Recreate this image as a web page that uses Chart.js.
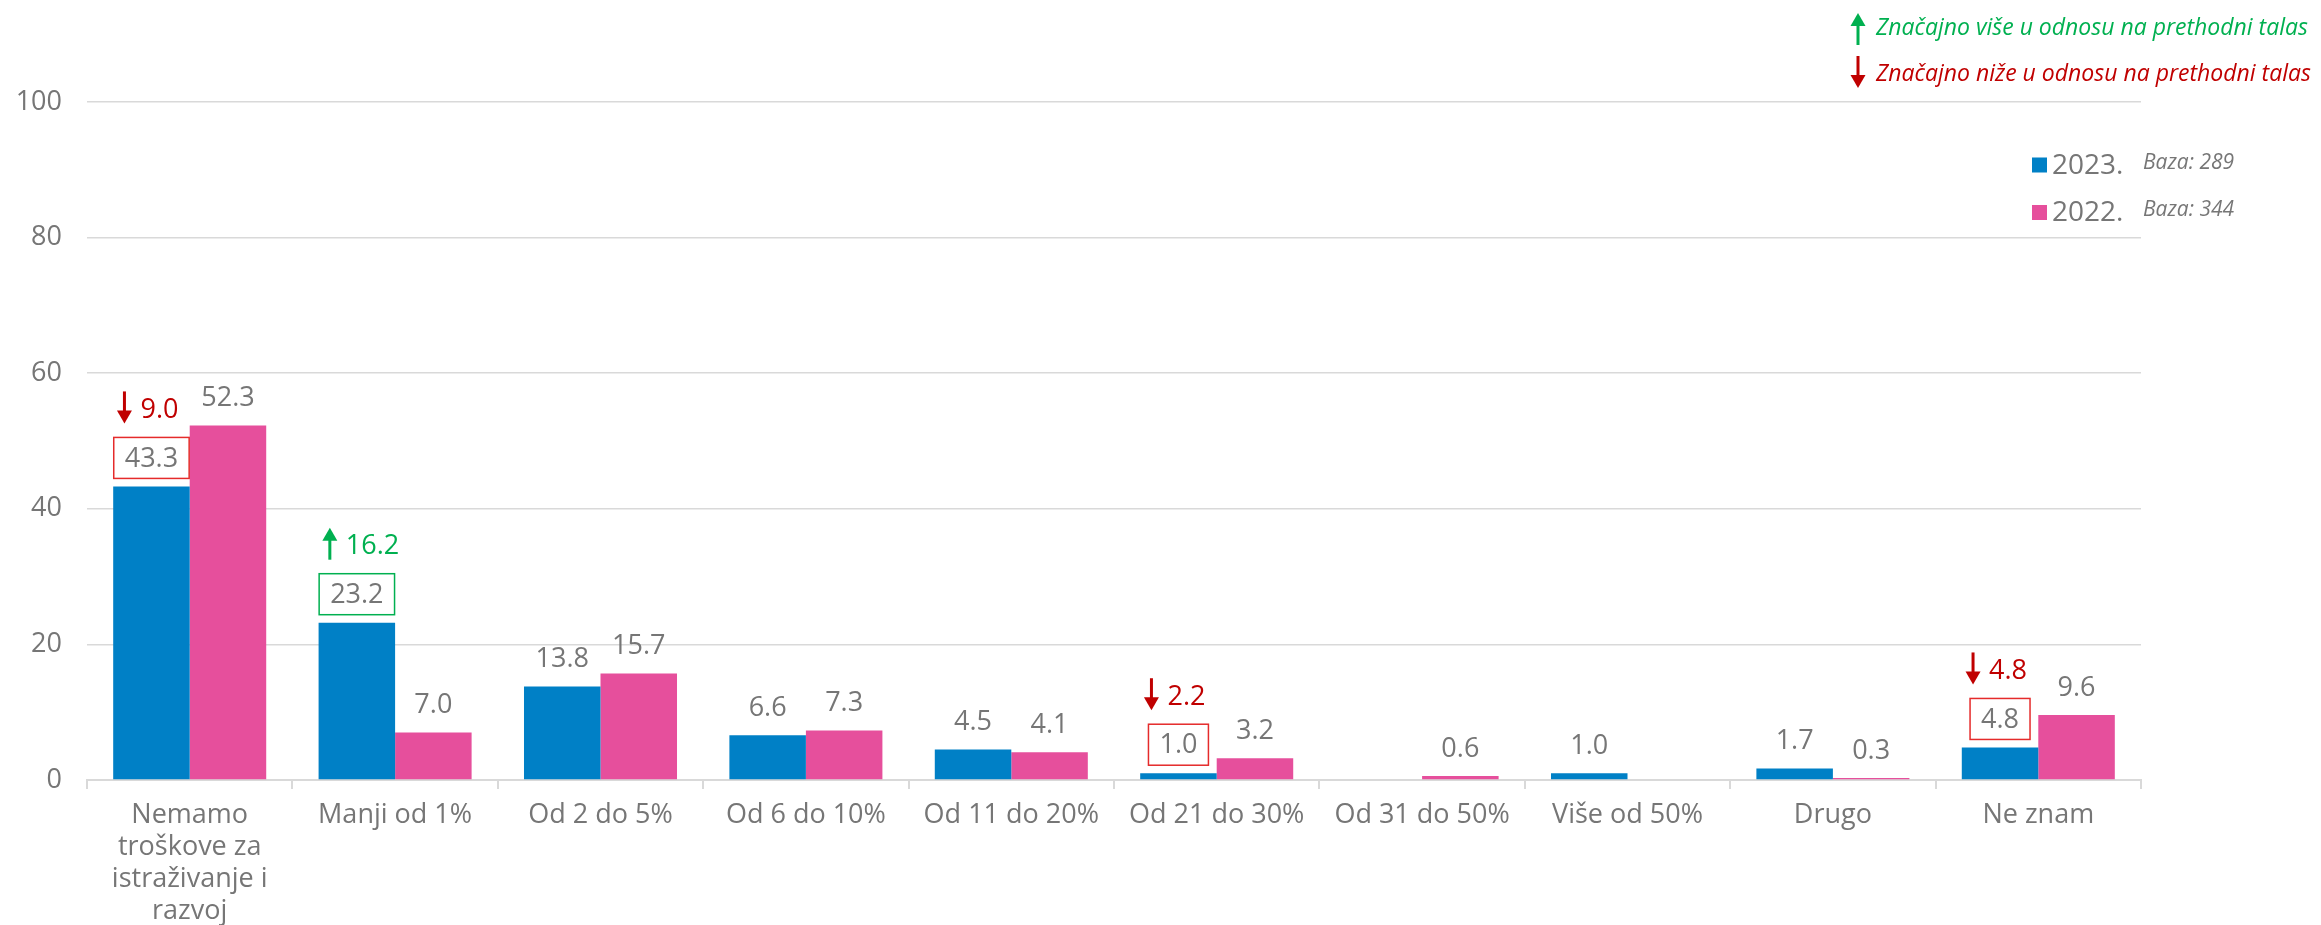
<!DOCTYPE html>
<html>
<head>
<meta charset="utf-8">
<script src="https://cdn.jsdelivr.net/npm/chart.js@4"></script>
<style>
  body { margin: 0; background: #fff; }
  #wrap { width: 2321px; height: 925px; position: relative; }
</style>
</head>
<body>
<div id="wrap"><canvas id="chart-1"></canvas></div>
<script>
// ---------------------------- data ----------------------------
const categories = [
  ['Nemamo', 'troškove za', 'istraživanje i', 'razvoj'],
  'Manji od 1%', 'Od 2 do 5%', 'Od 6 do 10%', 'Od 11 do 20%',
  'Od 21 do 30%', 'Od 31 do 50%', 'Više od 50%', 'Drugo', 'Ne znam'
];
const values2023 = [43.3, 23.2, 13.8, 6.6, 4.5, 1.0, null, 1.0, 1.7, 4.8];
const values2022 = [52.3, 7.0, 15.7, 7.3, 4.1, 3.2, 0.6, null, 0.3, 9.6];
// significance vs. previous wave: 1 = higher, -1 = lower, 0 = none
const sigDir = [-1, 1, 0, 0, 0, -1, 0, 0, 0, -1];
const sigDiff = [9.0, 16.2, null, null, null, 2.2, null, null, null, 4.8];
const yTicks = [0, 20, 40, 60, 80, 100];
const seriesLabels = ['2023.', '2022.'];
const bases = ['Baza: 289', 'Baza: 344'];
const noteUp = 'Značajno više u odnosu na prethodni talas';
const noteDown = 'Značajno niže u odnosu na prethodni talas';

const FONT = '"Open Sans", sans-serif';
const GRAY = '#767676';
const GREEN = '#00b050';
const RED = '#c00000';
const BOX_RED = '#e52b2b';
const colors = ['#0080c6', '#e64f9c'];

function drawArrow(c, x, yTop, yBottom, dir, color) {
  c.save();
  c.strokeStyle = color;
  c.fillStyle = color;
  c.lineWidth = 3;
  c.beginPath();
  if (dir > 0) {
    c.moveTo(x, yBottom);
    c.lineTo(x, yTop + 10);
    c.stroke();
    c.beginPath();
    c.moveTo(x - 7.5, yTop + 13);
    c.lineTo(x + 7.5, yTop + 13);
    c.lineTo(x, yTop);
  } else {
    c.moveTo(x, yTop);
    c.lineTo(x, yBottom - 10);
    c.stroke();
    c.beginPath();
    c.moveTo(x - 7.5, yBottom - 13);
    c.lineTo(x + 7.5, yBottom - 13);
    c.lineTo(x, yBottom);
  }
  c.closePath();
  c.fill();
  c.restore();
}

// labels, boxes and significance arrows
const annotations = {
  id: 'annotations',
  afterDatasetsDraw(chart) {
    const c = chart.ctx;
    const y = chart.scales.y;
    c.save();
    c.font = '27px ' + FONT;
    c.textAlign = 'center';
    c.textBaseline = 'middle';
    chart.data.datasets.forEach((ds, di) => {
      const meta = chart.getDatasetMeta(di);
      ds.data.forEach((v, i) => {
        if (v === null) return;
        const bar = meta.data[i];
        const top = y.getPixelForValue(v);
        const txt = v.toFixed(1);
        if (di === 0 && sigDir[i] !== 0) {
          const col = sigDir[i] > 0 ? GREEN : RED;
          const w = c.measureText(txt).width + 22;
          const bBottom = top - 8, bTop = bBottom - 41;
          c.strokeStyle = sigDir[i] > 0 ? GREEN : BOX_RED;
          c.lineWidth = 1.5;
          c.strokeRect(bar.x - w / 2, bTop, w, 41);
          c.fillStyle = GRAY;
          c.fillText(txt, bar.x, (bTop + bBottom) / 2 + 1);
          const cy = bTop - 30;
          drawArrow(c, bar.x - 27, cy - 16, cy + 16, sigDir[i], col);
          c.fillStyle = col;
          c.textAlign = 'left';
          c.fillText(sigDiff[i].toFixed(1), bar.x - 11, cy + 3);
          c.textAlign = 'center';
        } else {
          c.fillStyle = GRAY;
          c.fillText(txt, bar.x, top - 27);
        }
      });
    });
    c.restore();
  },
  afterDraw(chart) {
    const c = chart.ctx;
    c.save();
    // notes top right
    c.textBaseline = 'middle';
    c.textAlign = 'left';
    c.font = 'italic 23px ' + FONT;
    drawArrow(c, 1858, 13, 45, 1, GREEN);
    c.fillStyle = GREEN;
    c.fillText(noteUp, 1876, 28);
    drawArrow(c, 1858, 56, 88, -1, RED);
    c.fillStyle = RED;
    c.fillText(noteDown, 1876, 74);
    // legend
    seriesLabels.forEach((lab, i) => {
      const cy = 165 + i * 47.5;
      c.fillStyle = colors[i];
      c.fillRect(2032, cy - 7.5, 15, 15);
      c.fillStyle = GRAY;
      c.font = '28px ' + FONT;
      c.fillText(lab, 2052, cy + 1);
      c.font = 'italic 21px ' + FONT;
      c.fillText(bases[i], 2143, cy - 2);
    });
    c.restore();
  }
};

const ctx = document.getElementById('chart-1');
new Chart(ctx, {
  type: 'bar',
  data: {
    labels: categories,
    datasets: [
      { label: seriesLabels[0], data: values2023, backgroundColor: colors[0] },
      { label: seriesLabels[1], data: values2022, backgroundColor: colors[1] }
    ]
  },
  options: {
    responsive: true,
    maintainAspectRatio: false,
    animation: false,
    categoryPercentage: 0.745,
    barPercentage: 1,
    layout: { padding: { top: 102, right: 180, left: 0, bottom: 0 } },
    plugins: { legend: { display: false }, tooltip: { enabled: false } },
    scales: {
      x: {
        grid: { offset: true, drawOnChartArea: false, color: '#d9d9d9', lineWidth: 2, tickLength: 9 },
        border: { color: '#d9d9d9', width: 2 },
        ticks: { color: GRAY, font: { family: FONT, size: 27, lineHeight: 1.19 }, padding: 10, maxRotation: 0, autoSkip: false },
        afterFit: s => { s.height = 145; }
      },
      y: {
        min: 0, max: 100,
        afterBuildTicks: s => { s.ticks = yTicks.map(v => ({ value: v })); },
        grid: { color: '#d9d9d9', lineWidth: 1.5, drawTicks: false },
        border: { display: false },
        ticks: { color: GRAY, font: { family: FONT, size: 27 }, padding: 25 },
        afterFit: s => { s.width = 87; }
      }
    }
  },
  plugins: [annotations]
});
</script>
</body>
</html>
